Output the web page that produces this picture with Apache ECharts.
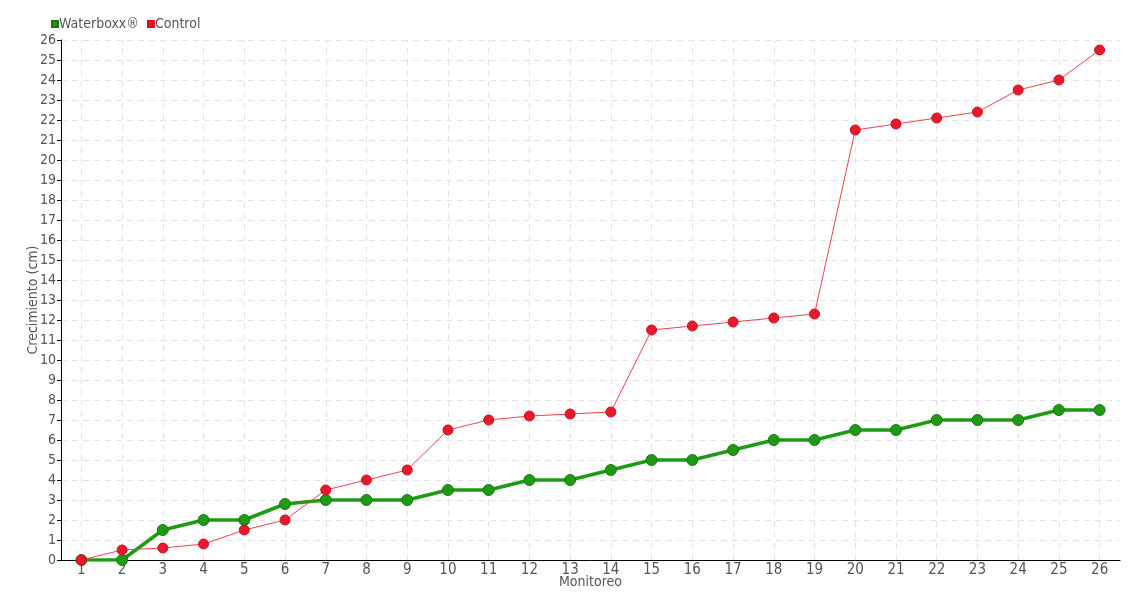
<!DOCTYPE html>
<html><head><meta charset="utf-8">
<script src="https://cdn.jsdelivr.net/npm/echarts@6/dist/echarts.min.js"></script>
<style>html,body{margin:0;padding:0;background:#fff}#c{width:1140px;height:600px}</style>
</head><body><div id="c"></div>
<script>
const categories = ['1','2','3','4','5','6','7','8','9','10','11','12','13','14','15','16','17','18','19','20','21','22','23','24','25','26'];
const waterboxx = [0,0,1.5,2,2,2.8,3,3,3,3.5,3.5,4,4,4.5,5,5,5.5,6,6,6.5,6.5,7,7,7,7.5,7.5];
const control = [0,0.5,0.6,0.8,1.5,2,3.5,4,4.5,6.5,7,7.2,7.3,7.4,11.5,11.7,11.9,12.1,12.3,21.5,21.8,22.1,22.4,23.5,24,25.5];
const FONT = '"Liberation Sans Narrow","DejaVu Sans Condensed",sans-serif';
const GRIDLINE = {color:'#e4e4e4',type:[6,5],width:1};
const chart = echarts.init(document.getElementById('c'));
chart.setOption({
  animation:false,
  textStyle:{fontFamily:FONT,color:'#555'},
  legend:{left:46,top:12,itemWidth:6,itemHeight:6,itemGap:8,icon:'rect',
    textStyle:{fontFamily:FONT,fontSize:14,color:'#555',padding:[0,0,0,-4]},
    data:['Waterboxx®','Control']},
  grid:{left:61,right:20,top:40,bottom:40,outerBoundsMode:'none',containLabel:false},
  xAxis:{type:'category',data:categories,name:'Monitoreo',nameLocation:'middle',nameGap:22,nameMoveOverlap:false,
    nameTextStyle:{fontFamily:FONT,fontSize:14,color:'#555',verticalAlign:'middle'},
    axisLine:{lineStyle:{color:'#000',width:1}},
    axisTick:{alignWithLabel:true,length:4,lineStyle:{color:'#000'}},
    axisLabel:{fontFamily:FONT,fontSize:15,color:'#555',margin:3},
    splitLine:{show:false}},
  yAxis:{type:'value',min:0,max:26,interval:1,name:'Crecimiento (cm)',nameLocation:'middle',nameGap:28,nameMoveOverlap:false,
    nameTextStyle:{fontFamily:FONT,fontSize:14,color:'#555',verticalAlign:'middle'},
    axisLine:{show:true,lineStyle:{color:'#000',width:1}},
    axisTick:{show:true,length:4,lineStyle:{color:'#000'}},
    axisLabel:{fontFamily:FONT,fontSize:14,color:'#555',margin:5},
    splitLine:{show:true,lineStyle:GRIDLINE}},
  series:[
    {name:'Waterboxx®',type:'line',data:waterboxx,symbol:'circle',symbolSize:11,z:3,
      lineStyle:{color:'#1f9a14',width:3.5},
      itemStyle:{color:'#1f9a14',borderColor:'#167a10',borderWidth:1},
      markLine:{silent:true,symbol:'none',label:{show:false},z:1,
        lineStyle:GRIDLINE,emphasis:{disabled:true},
        data:categories.map(c=>({xAxis:c}))}},
    {name:'Control',type:'line',data:control,symbol:'circle',symbolSize:10,z:4,
      lineStyle:{color:'#f0404f',width:1},
      itemStyle:{color:'#e8192c',borderColor:'#c8101f',borderWidth:1}}
  ]
});
</script></body></html>
